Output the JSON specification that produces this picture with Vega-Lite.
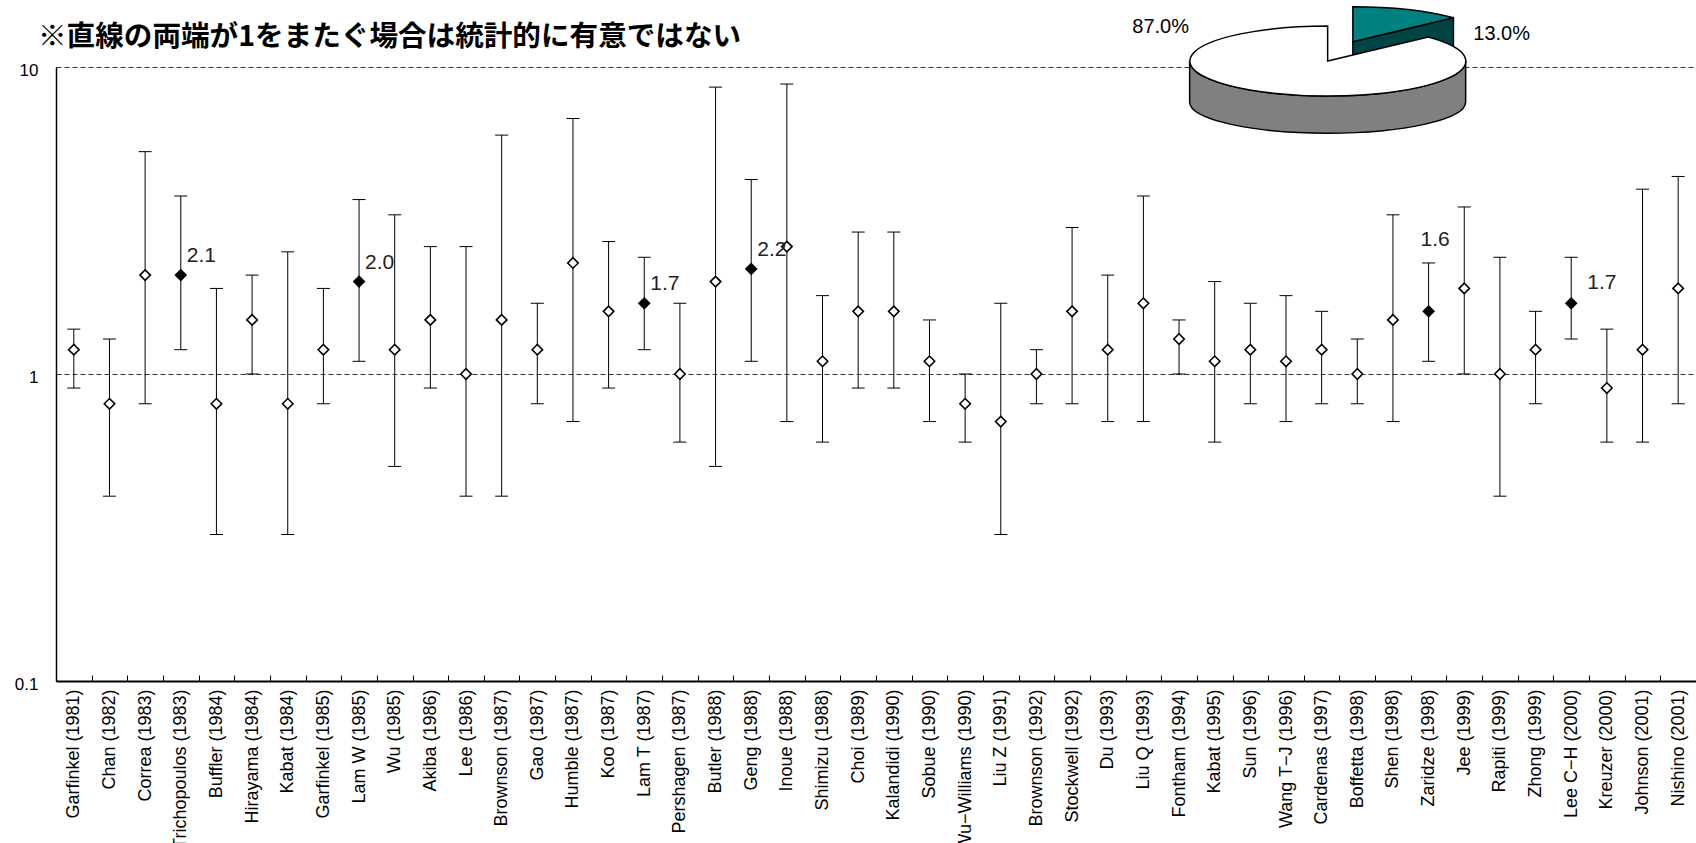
{
  "$schema": "https://vega.github.io/schema/vega-lite/v6.json",
  "width": 1640,
  "height": 614,
  "autosize": {"type": "none"},
  "padding": {"left": 56, "top": 67, "right": 0, "bottom": 162},
  "background": "white",
  "config": {"view": {"stroke": null}, "font": "Liberation Sans"},
  "title": {
    "text": "※直線の両端が1をまたぐ場合は統計的に有意ではない",
    "anchor": "start",
    "frame": "group",
    "dx": -18,
    "offset": -48,
    "font": "Noto Sans CJK JP",
    "fontSize": 28.6,
    "fontWeight": "bold",
    "color": "#000"
  },
  "datasets": {
    "studies": [
      {"name": "Garfinkel (1981)", "or": 1.2, "lo": 0.9, "hi": 1.4},
      {"name": "Chan (1982)", "or": 0.8, "lo": 0.4, "hi": 1.3},
      {"name": "Correa (1983)", "or": 2.1, "lo": 0.8, "hi": 5.3},
      {"name": "Trichopoulos (1983)", "or": 2.1, "lo": 1.2, "hi": 3.8},
      {"name": "Buffler (1984)", "or": 0.8, "lo": 0.3, "hi": 1.9},
      {"name": "Hirayama (1984)", "or": 1.5, "lo": 1.0, "hi": 2.1},
      {"name": "Kabat (1984)", "or": 0.8, "lo": 0.3, "hi": 2.5},
      {"name": "Garfinkel (1985)", "or": 1.2, "lo": 0.8, "hi": 1.9},
      {"name": "Lam W (1985)", "or": 2.0, "lo": 1.1, "hi": 3.7},
      {"name": "Wu (1985)", "or": 1.2, "lo": 0.5, "hi": 3.3},
      {"name": "Akiba (1986)", "or": 1.5, "lo": 0.9, "hi": 2.6},
      {"name": "Lee (1986)", "or": 1.0, "lo": 0.4, "hi": 2.6},
      {"name": "Brownson (1987)", "or": 1.5, "lo": 0.4, "hi": 6.0},
      {"name": "Gao (1987)", "or": 1.2, "lo": 0.8, "hi": 1.7},
      {"name": "Humble (1987)", "or": 2.3, "lo": 0.7, "hi": 6.8},
      {"name": "Koo (1987)", "or": 1.6, "lo": 0.9, "hi": 2.7},
      {"name": "Lam T (1987)", "or": 1.7, "lo": 1.2, "hi": 2.4},
      {"name": "Pershagen (1987)", "or": 1.0, "lo": 0.6, "hi": 1.7},
      {"name": "Butler (1988)", "or": 2.0, "lo": 0.5, "hi": 8.6},
      {"name": "Geng (1988)", "or": 2.2, "lo": 1.1, "hi": 4.3},
      {"name": "Inoue (1988)", "or": 2.6, "lo": 0.7, "hi": 8.8},
      {"name": "Shimizu (1988)", "or": 1.1, "lo": 0.6, "hi": 1.8},
      {"name": "Choi (1989)", "or": 1.6, "lo": 0.9, "hi": 2.9},
      {"name": "Kalandidi (1990)", "or": 1.6, "lo": 0.9, "hi": 2.9},
      {"name": "Sobue (1990)", "or": 1.1, "lo": 0.7, "hi": 1.5},
      {"name": "Wu−Williams (1990)", "or": 0.8, "lo": 0.6, "hi": 1.0},
      {"name": "Liu Z (1991)", "or": 0.7, "lo": 0.3, "hi": 1.7},
      {"name": "Brownson (1992)", "or": 1.0, "lo": 0.8, "hi": 1.2},
      {"name": "Stockwell (1992)", "or": 1.6, "lo": 0.8, "hi": 3.0},
      {"name": "Du (1993)", "or": 1.2, "lo": 0.7, "hi": 2.1},
      {"name": "Liu Q (1993)", "or": 1.7, "lo": 0.7, "hi": 3.8},
      {"name": "Fontham (1994)", "or": 1.3, "lo": 1.0, "hi": 1.5},
      {"name": "Kabat (1995)", "or": 1.1, "lo": 0.6, "hi": 2.0},
      {"name": "Sun (1996)", "or": 1.2, "lo": 0.8, "hi": 1.7},
      {"name": "Wang T−J (1996)", "or": 1.1, "lo": 0.7, "hi": 1.8},
      {"name": "Cardenas (1997)", "or": 1.2, "lo": 0.8, "hi": 1.6},
      {"name": "Boffetta (1998)", "or": 1.0, "lo": 0.8, "hi": 1.3},
      {"name": "Shen (1998)", "or": 1.5, "lo": 0.7, "hi": 3.3},
      {"name": "Zaridze (1998)", "or": 1.6, "lo": 1.1, "hi": 2.3},
      {"name": "Jee (1999)", "or": 1.9, "lo": 1.0, "hi": 3.5},
      {"name": "Rapiti (1999)", "or": 1.0, "lo": 0.4, "hi": 2.4},
      {"name": "Zhong (1999)", "or": 1.2, "lo": 0.8, "hi": 1.6},
      {"name": "Lee C−H (2000)", "or": 1.7, "lo": 1.3, "hi": 2.4},
      {"name": "Kreuzer (2000)", "or": 0.9, "lo": 0.6, "hi": 1.4},
      {"name": "Johnson (2001)", "or": 1.2, "lo": 0.6, "hi": 4.0},
      {"name": "Nishino (2001)", "or": 1.9, "lo": 0.8, "hi": 4.4}
    ],
    "pie": [
      {"part": "有意", "share": 0.13},
      {"part": "有意でない", "share": 0.87}
    ]
  },
  "layer": [
    {
      "data": {"name": "studies"},
      "mark": {"type": "rule", "color": "#000", "strokeWidth": 1},
      "encoding": {
        "x": {
          "field": "name",
          "type": "nominal",
          "scale": {
            "type": "band",
            "paddingInner": 0,
            "paddingOuter": 0,
            "domain": ["Garfinkel (1981)", "Chan (1982)", "Correa (1983)", "Trichopoulos (1983)", "Buffler (1984)", "Hirayama (1984)", "Kabat (1984)", "Garfinkel (1985)", "Lam W (1985)", "Wu (1985)", "Akiba (1986)", "Lee (1986)", "Brownson (1987)", "Gao (1987)", "Humble (1987)", "Koo (1987)", "Lam T (1987)", "Pershagen (1987)", "Butler (1988)", "Geng (1988)", "Inoue (1988)", "Shimizu (1988)", "Choi (1989)", "Kalandidi (1990)", "Sobue (1990)", "Wu−Williams (1990)", "Liu Z (1991)", "Brownson (1992)", "Stockwell (1992)", "Du (1993)", "Liu Q (1993)", "Fontham (1994)", "Kabat (1995)", "Sun (1996)", "Wang T−J (1996)", "Cardenas (1997)", "Boffetta (1998)", "Shen (1998)", "Zaridze (1998)", "Jee (1999)", "Rapiti (1999)", "Zhong (1999)", "Lee C−H (2000)", "Kreuzer (2000)", "Johnson (2001)", "Nishino (2001)"]
          },
          "axis": {
            "title": null,
            "labelAngle": -90,
            "labelFont": "Liberation Sans",
            "labelFontSize": 18,
            "labelColor": "#000",
            "labelPadding": 14,
            "labelLimit": 0,
            "labelOverlap": false,
            "labelBound": false,
            "tickBand": "extent",
            "tickSize": -6,
            "tickColor": "#000",
            "tickWidth": 1,
            "domainColor": "#000",
            "domainWidth": 2,
            "grid": false
          }
        },
        "y": {
          "field": "lo",
          "type": "quantitative",
          "scale": {"type": "log", "domain": [0.1, 10], "nice": false},
          "axis": {
            "title": null,
            "values": [0.1, 1, 10],
            "format": "~g",
            "ticks": false,
            "labelFont": "Liberation Sans",
            "labelFontSize": 17,
            "labelColor": "#000",
            "labelPadding": 18,
            "labelOffset": 3,
            "domainColor": "#000",
            "domainWidth": 1.5,
            "grid": true,
            "gridDash": [5, 3],
            "gridColor": "#333",
            "gridWidth": 1
          }
        },
        "y2": {"field": "hi"}
      }
    },
    {
      "data": {"name": "studies"},
      "mark": {"type": "tick", "color": "#000", "size": 13, "thickness": 1, "opacity": 1},
      "encoding": {
        "x": {"field": "name", "type": "nominal"},
        "y": {"field": "lo", "type": "quantitative"}
      }
    },
    {
      "data": {"name": "studies"},
      "mark": {"type": "tick", "color": "#000", "size": 13, "thickness": 1, "opacity": 1},
      "encoding": {
        "x": {"field": "name", "type": "nominal"},
        "y": {"field": "hi", "type": "quantitative"}
      }
    },
    {
      "data": {"name": "studies"},
      "mark": {"type": "point", "shape": "diamond", "size": 110, "filled": true, "stroke": "#000", "strokeWidth": 1.6, "opacity": 1},
      "encoding": {
        "x": {"field": "name", "type": "nominal"},
        "y": {"field": "or", "type": "quantitative"},
        "fill": {"condition": {"test": "datum.lo > 1", "value": "#000"}, "value": "#fff"}
      }
    },
    {
      "data": {"name": "studies"},
      "transform": [{"filter": "datum.lo > 1 && datum.name != 'Zaridze (1998)' && datum.name != 'Lee C−H (2000)'"}],
      "mark": {"type": "text", "align": "left", "baseline": "alphabetic", "dx": 6, "dy": -13, "font": "Liberation Sans", "fontSize": 21, "color": "#222"},
      "encoding": {
        "x": {"field": "name", "type": "nominal"},
        "y": {"field": "or", "type": "quantitative"},
        "text": {"field": "or", "type": "quantitative", "format": ".1f"}
      }
    },
    {
      "data": {"name": "studies"},
      "transform": [{"filter": "datum.name == 'Lee C−H (2000)'"}],
      "mark": {"type": "text", "align": "left", "baseline": "alphabetic", "dx": 16, "dy": -14, "font": "Liberation Sans", "fontSize": 21, "color": "#222"},
      "encoding": {
        "x": {"field": "name", "type": "nominal"},
        "y": {"field": "or", "type": "quantitative"},
        "text": {"field": "or", "type": "quantitative", "format": ".1f"}
      }
    },
    {
      "data": {"name": "studies"},
      "transform": [{"filter": "datum.name == 'Zaridze (1998)'"}],
      "mark": {"type": "text", "align": "left", "baseline": "alphabetic", "dx": -8, "dy": -65, "font": "Liberation Sans", "fontSize": 21, "color": "#222"},
      "encoding": {
        "x": {"field": "name", "type": "nominal"},
        "y": {"field": "or", "type": "quantitative"},
        "text": {"field": "or", "type": "quantitative", "format": ".1f"}
      }
    },
    {
      "data": {"name": "pie"},
      "transform": [{"filter": "datum.part == '有意'"}],
      "mark": {"type": "point", "shape": "M31.2 -25.3 L131.8 -49.3 L131.8 -11.3 L31.2 12.7 Z", "size": 4, "filled": true, "fill": "#004545", "stroke": "#000", "strokeWidth": 1.5, "opacity": 1},
      "encoding": {
        "x": {"datum": "Cardenas (1997)", "type": "nominal"},
        "y": {"datum": 10, "type": "quantitative"}
      }
    },
    {
      "data": {"name": "pie"},
      "transform": [{"filter": "datum.part == '有意'"}],
      "mark": {"type": "point", "shape": "M31.2 -25.3 L31.2 -60.3 A138 35 0 0 1 131.8 -49.3 Z", "size": 4, "filled": true, "fill": "#008080", "stroke": "#000", "strokeWidth": 1.5, "opacity": 1},
      "encoding": {
        "x": {"datum": "Cardenas (1997)", "type": "nominal"},
        "y": {"datum": 10, "type": "quantitative"}
      }
    },
    {
      "data": {"name": "pie"},
      "transform": [{"filter": "datum.part == '有意でない'"}],
      "mark": {"type": "point", "shape": "M-132 -6 L-132 35 A138 31.3 0 0 0 144 35 L144 -6 A138 35 0 0 1 -132 -6 Z", "size": 4, "filled": true, "fill": "#808080", "stroke": "#000", "strokeWidth": 1.5, "opacity": 1},
      "encoding": {
        "x": {"datum": "Cardenas (1997)", "type": "nominal"},
        "y": {"datum": 10, "type": "quantitative"}
      }
    },
    {
      "data": {"name": "pie"},
      "transform": [{"filter": "datum.part == '有意でない'"}],
      "mark": {"type": "point", "shape": "M6 -6 L6 -41 A138 35 0 1 0 106.6 -30 Z", "size": 4, "filled": true, "fill": "#fff", "stroke": "#000", "strokeWidth": 1.5, "opacity": 1},
      "encoding": {
        "x": {"datum": "Cardenas (1997)", "type": "nominal"},
        "y": {"datum": 10, "type": "quantitative"}
      }
    },
    {
      "data": {"name": "pie"},
      "transform": [{"filter": "datum.part == '有意でない'"}],
      "mark": {"type": "text", "align": "center", "baseline": "alphabetic", "dx": -161, "dy": -34, "font": "Liberation Sans", "fontSize": 20, "color": "#000"},
      "encoding": {
        "x": {"datum": "Cardenas (1997)", "type": "nominal"},
        "y": {"datum": 10, "type": "quantitative"},
        "text": {"field": "share", "type": "quantitative", "format": ".1%"}
      }
    },
    {
      "data": {"name": "pie"},
      "transform": [{"filter": "datum.part == '有意'"}],
      "mark": {"type": "text", "align": "center", "baseline": "alphabetic", "dx": 180, "dy": -27, "font": "Liberation Sans", "fontSize": 20, "color": "#000"},
      "encoding": {
        "x": {"datum": "Cardenas (1997)", "type": "nominal"},
        "y": {"datum": 10, "type": "quantitative"},
        "text": {"field": "share", "type": "quantitative", "format": ".1%"}
      }
    }
  ]
}
